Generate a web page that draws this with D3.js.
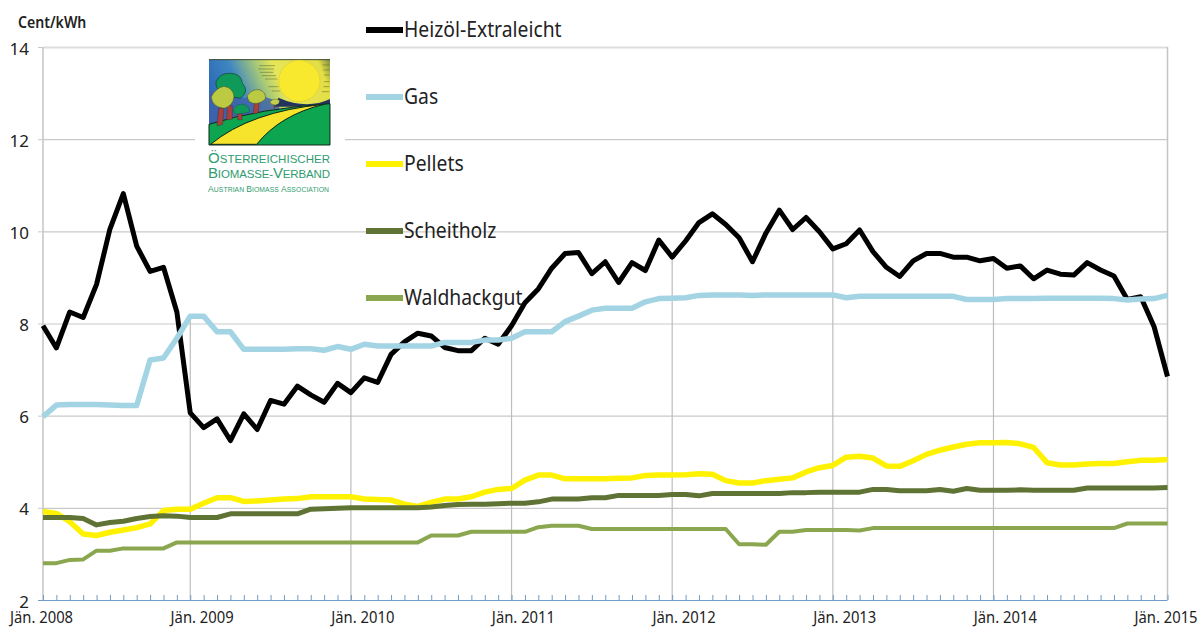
<!DOCTYPE html>
<html>
<head>
<meta charset="utf-8">
<script src="https://cdn.jsdelivr.net/npm/d3@7"></script>
<style>
  html, body { margin: 0; padding: 0; background: #fff; }
  svg { display: block; }
  text { font-family: "Noto Sans", sans-serif; fill: #222; }
</style>
</head>
<body>
<div id="chart"></div>
<script>
var width = 1200;
var height = 628;

var seriesNames = ["Heizöl-Extraleicht", "Gas", "Pellets", "Scheitholz", "Waldhackgut"];
var seriesColors = ["#000000", "#a3d4e3", "#fff200", "#5f7335", "#8aa64e"];
var seriesWidths = [5, 5.5, 5.5, 5, 4];

// monthly values, Jän. 2008 to Jän. 2015
var heizoel = [7.95, 7.47, 8.25, 8.13, 8.85, 10.05, 10.82, 9.68, 9.13, 9.22, 8.25, 6.06, 5.74, 5.93, 5.46, 6.04, 5.7,
  6.33, 6.25, 6.64, 6.45, 6.29, 6.7, 6.5, 6.82, 6.72, 7.33, 7.6, 7.79, 7.73, 7.48, 7.41, 7.41, 7.68, 7.55, 7.95,
  8.45, 8.75, 9.2, 9.52, 9.54, 9.08, 9.34, 8.89, 9.32, 9.15, 9.81, 9.44, 9.79, 10.19, 10.38, 10.15, 9.86, 9.34,
  9.96, 10.46, 10.04, 10.3, 9.99, 9.62, 9.73, 10.03, 9.56, 9.22, 9.02, 9.36, 9.52, 9.52, 9.44, 9.44, 9.36, 9.41,
  9.2, 9.25, 8.97, 9.16, 9.07, 9.05, 9.32, 9.16, 9.03, 8.52, 8.58, 7.93, 6.85];
var gas = [5.98, 6.23, 6.24, 6.24, 6.24, 6.23, 6.22, 6.22, 7.21, 7.25, 7.68, 8.16, 8.16, 7.82, 7.82, 7.44, 7.44,
  7.44, 7.44, 7.45, 7.45, 7.42, 7.5, 7.44, 7.55, 7.51, 7.51, 7.51, 7.51, 7.51, 7.59, 7.59, 7.59, 7.64, 7.64, 7.68,
  7.82, 7.82, 7.82, 8.04, 8.16, 8.29, 8.33, 8.33, 8.33, 8.47, 8.54, 8.55, 8.56, 8.61, 8.62, 8.62, 8.62, 8.61,
  8.62, 8.62, 8.62, 8.62, 8.62, 8.62, 8.56, 8.59, 8.59, 8.59, 8.59, 8.59, 8.59, 8.59, 8.59, 8.52, 8.52, 8.52,
  8.54, 8.54, 8.54, 8.55, 8.55, 8.55, 8.55, 8.55, 8.54, 8.51, 8.53, 8.54, 8.61];
var pellets = [3.92, 3.88, 3.7, 3.43, 3.4, 3.47, 3.52, 3.57, 3.65, 3.94, 3.97, 3.97, 4.1, 4.22, 4.22, 4.14, 4.15,
  4.17, 4.19, 4.2, 4.24, 4.24, 4.24, 4.24, 4.19, 4.18, 4.17, 4.08, 4.03, 4.12, 4.19, 4.19, 4.24, 4.34, 4.4, 4.42,
  4.6, 4.71, 4.71, 4.63, 4.63, 4.63, 4.63, 4.64, 4.65, 4.7, 4.71, 4.71, 4.72, 4.74, 4.73, 4.59, 4.54, 4.54,
  4.59, 4.62, 4.65, 4.78, 4.87, 4.92, 5.1, 5.12, 5.08, 4.91, 4.9, 5.02, 5.16, 5.25, 5.32, 5.38, 5.41, 5.41,
  5.42, 5.39, 5.31, 4.98, 4.93, 4.93, 4.95, 4.96, 4.96, 5.0, 5.03, 5.03, 5.05];
var scheitholz = [3.79, 3.79, 3.79, 3.77, 3.63, 3.68, 3.71, 3.77, 3.81, 3.83, 3.82, 3.79, 3.79, 3.79, 3.87, 3.87, 3.87,
  3.87, 3.87, 3.87, 3.97, 3.98, 3.99, 4.0, 4.0, 4.0, 4.0, 4.0, 4.0, 4.02, 4.05, 4.07, 4.08, 4.08, 4.09, 4.1,
  4.1, 4.13, 4.19, 4.19, 4.19, 4.22, 4.22, 4.27, 4.27, 4.27, 4.27, 4.29, 4.29, 4.26, 4.31, 4.31, 4.31, 4.31,
  4.31, 4.31, 4.33, 4.33, 4.34, 4.34, 4.34, 4.34, 4.4, 4.4, 4.37, 4.37, 4.37, 4.4, 4.36, 4.42, 4.38, 4.38,
  4.38, 4.39, 4.38, 4.38, 4.38, 4.38, 4.43, 4.43, 4.43, 4.43, 4.43, 4.43, 4.44];
var waldhackgut = [2.8, 2.8, 2.87, 2.88, 3.07, 3.07, 3.12, 3.12, 3.12, 3.12, 3.25, 3.25, 3.25, 3.25, 3.25, 3.25, 3.25,
  3.25, 3.25, 3.25, 3.25, 3.25, 3.25, 3.25, 3.25, 3.25, 3.25, 3.25, 3.25, 3.4, 3.4, 3.4, 3.48, 3.48, 3.48, 3.48,
  3.48, 3.58, 3.61, 3.61, 3.61, 3.54, 3.54, 3.54, 3.54, 3.54, 3.54, 3.54, 3.54, 3.54, 3.54, 3.54, 3.21, 3.21,
  3.2, 3.48, 3.48, 3.52, 3.52, 3.52, 3.52, 3.51, 3.56, 3.56, 3.56, 3.56, 3.56, 3.56, 3.56, 3.56, 3.56, 3.56,
  3.56, 3.56, 3.56, 3.56, 3.56, 3.56, 3.56, 3.56, 3.56, 3.66, 3.66, 3.66, 3.66];
var allSeries = [heizoel, gas, pellets, scheitholz, waldhackgut];

var yTicks = [2, 4, 6, 8, 10, 12, 14];
var yearLabels = ["Jän. 2008", "Jän. 2009", "Jän. 2010", "Jän. 2011", "Jän. 2012", "Jän. 2013", "Jän. 2014", "Jän. 2015"];
var yearMonths = [0, 12, 24, 36, 48, 60, 72, 84];
var dropMonths = [11, 23, 35, 47, 59, 71];

const svg = d3.select("#chart")
  .append("svg")
  .attr("width", width)
  .attr("height", height)
  .attr("viewBox", [0, 0, width, height]);

const x = d3.scaleLinear().domain([0, 84]).range([43, 1167.5]);
const y = d3.scaleLinear().domain([2, 14]).range([600, 47]);
const line = d3.line().x((d, i) => x(i)).y(d => y(d));

// the original face is condensed and none is installed, so squeeze
function squeeze(sel, ratio) {
  sel.each(function() {
    d3.select(this)
      .attr("textLength", this.getComputedTextLength() * ratio)
      .attr("lengthAdjust", "spacingAndGlyphs");
  });
}

// horizontal grid
svg.append("g")
  .attr("transform", "translate(43,0)")
  .call(d3.axisLeft(y).tickValues(yTicks.slice(1)).tickSize(-(x(84) - x(0))).tickFormat(""))
  .call(g => g.select(".domain").remove())
  .call(g => g.selectAll("line").attr("stroke", "#c9c9c9").attr("stroke-width", 1.2))
  .call(g => g.selectAll("line").filter(d => d === 14).attr("stroke", "#dedede").attr("stroke-width", 2));

// left and right frame, full height
svg.selectAll("line.frame")
  .data([0, 84])
  .join("line")
  .attr("class", "frame")
  .attr("x1", d => x(d)).attr("x2", d => x(d))
  .attr("y1", y(14)).attr("y2", y(2))
  .attr("stroke", "#c4c4c4")
  .attr("stroke-width", 1.5);

// drop lines from the highest series down to the axis
svg.selectAll("line.drop")
  .data(dropMonths)
  .join("line")
  .attr("class", "drop")
  .attr("x1", d => x(d)).attr("x2", d => x(d))
  .attr("y1", d => y(d3.max(allSeries, s => s[d])))
  .attr("y2", y(2))
  .attr("stroke", "#bdbdbd")
  .attr("stroke-width", 1.2);

// y axis labels and short ticks
svg.append("g")
  .attr("transform", "translate(43,0)")
  .call(d3.axisLeft(y).tickValues(yTicks).tickSize(5).tickPadding(9))
  .call(g => g.select(".domain").remove())
  .call(g => g.selectAll("line").attr("stroke", "#c9c9c9"))
  .call(g => g.selectAll("text").attr("font-size", 17).attr("font-family", null).attr("dy", "0.42em"));

// x axis, ticks point up
svg.append("g")
  .attr("transform", "translate(0,600)")
  .call(d3.axisBottom(x).tickValues(d3.range(85)).tickSize(-5).tickPadding(0).tickFormat(""))
  .call(g => g.select(".domain").attr("stroke", "#6f9cc8").attr("d", "M38,0.5H1167.5"))
  .call(g => g.selectAll("line").attr("stroke", "#6f9cc8"));

svg.append("g")
  .selectAll("text")
  .data(yearLabels)
  .join("text")
  .attr("x", (d, i) => x(yearMonths[i]) - 1.5)
  .attr("y", 622.5)
  .attr("text-anchor", "middle")
  .attr("font-size", 17)
  .text(d => d)
  .call(squeeze, 0.87);

svg.append("text")
  .attr("x", 18)
  .attr("y", 28)
  .attr("font-size", 15.5)
  .attr("font-weight", 600)
  .text("Cent/kWh")
  .call(squeeze, 0.91);

// series, black first so gas runs over it
svg.selectAll("path.series")
  .data(allSeries)
  .join("path")
  .attr("class", "series")
  .attr("d", d => line(d))
  .attr("fill", "none")
  .attr("stroke", (d, i) => seriesColors[i])
  .attr("stroke-width", (d, i) => seriesWidths[i])
  .attr("stroke-linejoin", "round");

// legend
const legendRows = svg.selectAll("g.legend")
  .data(seriesNames)
  .join("g")
  .attr("class", "legend")
  .attr("transform", (d, i) => "translate(366," + (30 + i * 67) + ")");

legendRows.append("line")
  .attr("x1", 0).attr("x2", 37)
  .attr("stroke", (d, i) => seriesColors[i])
  .attr("stroke-width", 6);

legendRows.append("text")
  .attr("x", 38)
  .attr("y", 7)
  .attr("font-size", 21)
  .text(d => d)
  .call(squeeze, 0.92);

drawLogo();

function drawLogo() {
  // white patch behind the logo cuts the 12 grid line
  svg.append("rect")
    .attr("x", 195).attr("y", 50)
    .attr("width", 150).attr("height", 148)
    .attr("fill", "#fff");

  const defs = svg.append("defs");
  const sky = defs.append("linearGradient").attr("id", "logoSky").attr("x1", 0).attr("x2", 1).attr("y1", 0.3).attr("y2", 0);
  sky.append("stop").attr("offset", "0").attr("stop-color", "#2c6cb8");
  sky.append("stop").attr("offset", "0.22").attr("stop-color", "#3f86c2");
  sky.append("stop").attr("offset", "0.42").attr("stop-color", "#a5c878");
  sky.append("stop").attr("offset", "0.55").attr("stop-color", "#e6e65a");
  sky.append("stop").attr("offset", "0.9").attr("stop-color", "#e4de45");
  sky.append("stop").attr("offset", "1").attr("stop-color", "#7f8c45");

  // drawn in crop pixels, three to one
  const logo = svg.append("g").attr("transform", "translate(200,55) scale(0.3333)");
  logo.append("rect").attr("x", 27).attr("y", 13).attr("width", 363).attr("height", 257).attr("fill", "url(#logoSky)");
  logo.append("path").attr("d", "M27,14H390").attr("stroke", "#3c4a34").attr("stroke-width", 3);
  logo.append("path").attr("d", "M27,110 Q90,100 130,130 Q170,110 235,140 L240,170 L27,215 Z").attr("fill", "#3f62a8").attr("opacity", 0.8);
  logo.append("path").attr("d", "M235,128 Q320,165 390,132 L390,155 L225,155 Z").attr("fill", "#24345c");
  logo.append("circle").attr("cx", 298).attr("cy", 78).attr("r", 62).attr("fill", "#f8e92e").attr("stroke", "#d9cf3a").attr("stroke-width", 2);

  // hatching round the sun
  logo.append("path")
    .attr("d", "M178,32H225M175,42H222M180,52H220M185,62H228M195,72H232M205,95H235M215,108H240M368,30H388M370,45H388M372,60H388M372,80H388M370,95H388M366,110H388")
    .attr("stroke", "#56622c").attr("stroke-width", 1.5).attr("fill", "none");

  // fields and road
  logo.append("path").attr("d", "M27,208 Q180,160 390,146 L390,270 L27,270 Z").attr("fill", "#0da54f").attr("stroke", "#10261a").attr("stroke-width", 3);
  logo.append("path").attr("d", "M32,268 Q150,170 372,148 Q240,180 170,268 Z").attr("fill", "#f5e42b").attr("stroke", "#10261a").attr("stroke-width", 3);

  // trees
  logo.append("path").attr("d", "M56,160L51,213L68,208L72,160ZM82,152L80,195L97,192L97,152ZM113,176h13v18h-13ZM163,140L160,177L175,173L178,140Z")
    .attr("fill", "#a8403c").attr("stroke", "#3a1a1a");
  logo.append("path").attr("d", "M48,80 Q60,52 95,55 Q125,58 127,85 Q150,110 120,130 L75,120 Q45,105 48,80Z").attr("fill", "#0f9a5a").attr("stroke", "#14402a").attr("stroke-width", 2);
  logo.append("path").attr("d", "M100,165 Q110,145 130,148 Q150,155 148,172 L105,178Z").attr("fill", "#0f9a5a").attr("stroke", "#14402a");
  logo.append("path").attr("d", "M34,125 Q48,98 72,94 Q100,98 102,125 Q100,152 72,160 Q35,155 34,125Z").attr("fill", "#bcc942").attr("stroke", "#3b4a20").attr("stroke-width", 1.5);
  logo.append("path").attr("d", "M142,122 Q155,102 178,104 Q200,112 196,132 Q180,148 160,145 Q142,140 142,122Z").attr("fill", "#bcc942").attr("stroke", "#3b4a20").attr("stroke-width", 1.5);
  logo.append("path").attr("d", "M210,140 Q222,128 238,136 Q240,148 226,150 Q212,150 210,140Z").attr("fill", "#c5cf4c").attr("stroke", "#3b4a20");
  logo.append("path").attr("d", "M221,150h5v10h-5Z").attr("fill", "#6d3b2b");

  const logoGreen = "#2f9c70";
  var first = svg.append("text").attr("x", 208).attr("y", 163).style("font-family", "'Liberation Sans', sans-serif").style("fill", logoGreen).attr("textLength", 122);
  first.append("tspan").attr("font-size", 15).text("Ö");
  first.append("tspan").attr("font-size", 11.5).text("STERREICHISCHER");

  var second = svg.append("text").attr("x", 208).attr("y", 178).style("font-family", "'Liberation Sans', sans-serif").style("fill", logoGreen).attr("textLength", 122);
  second.append("tspan").attr("font-size", 15).text("B");
  second.append("tspan").attr("font-size", 11.5).text("IOMASSE-");
  second.append("tspan").attr("font-size", 15).text("V");
  second.append("tspan").attr("font-size", 11.5).text("ERBAND");

  var third = svg.append("text").attr("x", 208).attr("y", 192).style("font-family", "'Liberation Sans', sans-serif").style("fill", logoGreen).attr("textLength", 121);
  third.append("tspan").attr("font-size", 8.5).text("A");
  third.append("tspan").attr("font-size", 6.8).text("USTRIAN ");
  third.append("tspan").attr("font-size", 8.5).text("B");
  third.append("tspan").attr("font-size", 6.8).text("IOMASS ");
  third.append("tspan").attr("font-size", 8.5).text("A");
  third.append("tspan").attr("font-size", 6.8).text("SSOCIATION");
}
</script>
</body>
</html>
